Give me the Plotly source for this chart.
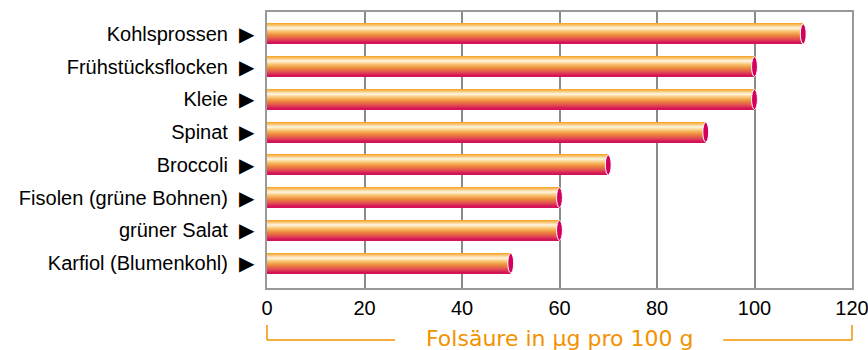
import plotly.graph_objects as go

categories = ["Kohlsprossen", "Frühstücksflocken", "Kleie", "Spinat", "Broccoli",
              "Fisolen (grüne Bohnen)", "grüner Salat", "Karfiol (Blumenkohl)"]
values = [110, 100, 100, 90, 70, 60, 60, 50]
x_ticks = [0, 20, 40, 60, 80, 100, 120]
axis_title = "Folsäure in µg pro 100 g"

pos = list(range(len(categories)))
BAR_H = 0.61
N = 20

# gradient stops (top -> bottom)
stops = [(0.0, (244, 160, 30)), (0.12, (250, 200, 120)), (0.25, (255, 246, 228)),
         (0.42, (248, 196, 110)), (0.6, (238, 140, 60)), (0.8, (226, 80, 80)), (1.0, (210, 10, 90))]

def grad(t):
    for (a, ca), (b, cb) in zip(stops[:-1], stops[1:]):
        if a <= t <= b:
            f = (t - a) / (b - a)
            c = [round(ca[i] + (cb[i] - ca[i]) * f) for i in range(3)]
            return "rgb(%d,%d,%d)" % tuple(c)
    return "rgb(%d,%d,%d)" % stops[-1][1]

fig = go.Figure()
sw = BAR_H / N
for k in range(N):
    t = (k + 0.5) / N
    fig.add_trace(go.Bar(
        x=values, y=pos, orientation="h",
        width=sw * 1.08, offset=-BAR_H / 2 + k * sw,
        marker=dict(color=grad(t), line=dict(width=0)),
        showlegend=False, hoverinfo="skip"))

shapes = []
for v, p in zip(values, pos):
    shapes.append(dict(type="circle", xref="x", yref="y",
                       x0=v - 0.6, x1=v + 0.6, y0=p - BAR_H / 2, y1=p + BAR_H / 2,
                       fillcolor="#D3005E", line=dict(color="white", width=1), layer="above"))

orange = "#F39200"
# bracket around axis title
for seg in [((0, -0.134), (0, -0.188)), ((0, -0.188), (0.219, -0.188)),
            ((0.78, -0.188), (1, -0.188)), ((1, -0.188), (1, -0.134))]:
    shapes.append(dict(type="line", xref="paper", yref="paper",
                       x0=seg[0][0], y0=seg[0][1], x1=seg[1][0], y1=seg[1][1],
                       line=dict(color=orange, width=1.5)))

ticktext = [c + "\u00a0\u00a0▶" for c in categories]

fig.update_layout(
    width=868, height=350,
    margin=dict(l=267, r=16, t=12, b=62),
    paper_bgcolor="white", plot_bgcolor="white",
    barmode="overlay", bargap=0,
    shapes=shapes,
    font=dict(family="Liberation Sans, Arial, sans-serif", size=20, color="black"),
    xaxis=dict(range=[0, 120.001], tickvals=x_ticks, showgrid=True, gridcolor="#8a8a8a",
               gridwidth=1.5, showline=True, linecolor="#999999", linewidth=2, mirror=True,
               zeroline=False, ticks="", ticklabelstandoff=1, ticklabeloverflow="allow",
               automargin=False, tickfont=dict(size=20)),
    yaxis=dict(range=[7.76, -0.67], tickvals=pos, ticktext=ticktext, showgrid=False,
               showline=True, linecolor="#999999", linewidth=2, mirror=True,
               zeroline=False, ticks="", ticklabelstandoff=7, automargin=False,
               tickfont=dict(size=20)),
    annotations=[dict(text=axis_title, xref="paper", yref="paper", x=0.5, y=-0.183,
                      xanchor="center", yanchor="middle", showarrow=False,
                      font=dict(family="DejaVu Sans, sans-serif", size=22, color=orange))],
)

fig.write_html("out.html")
